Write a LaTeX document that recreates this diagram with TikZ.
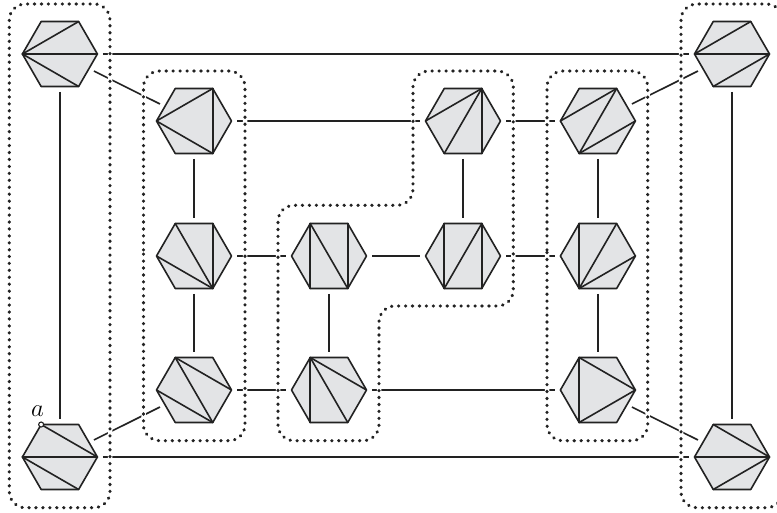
\documentclass[tikz,border=0pt]{standalone}
\usetikzlibrary{shapes.geometric}
\definecolor{hexfill}{HTML}{E3E4E6}
\definecolor{ink}{HTML}{222222}
\tikzset{
  hexnode/.style={regular polygon,regular polygon sides=6,minimum size=75pt,inner sep=0pt,outer sep=0pt,draw=ink,fill=hexfill,line width=1.6pt,line join=round},
  diag/.style={draw=ink,line width=1.6pt,line cap=round},
  link/.style={draw=ink,line width=1.6pt,shorten <=5.5pt,shorten >=5.5pt},
  halo/.style={draw=white,line width=4.5pt,rounded corners=16pt},
  dots/.style={draw=ink,line width=3.2pt,line cap=round,dash pattern=on 0.4pt off 6.55pt,rounded corners=16pt}
}
% corners: 1 top-right, 2 top-left, 3 left, 4 bottom-left, 5 bottom-right, 6 right
\newcommand{\hexa}[3]{%
  \node[hexnode] (#1) at (#2) {};
  \foreach \p/\q in {#3} \draw[diag] (#1.corner \p) -- (#1.corner \q);
}
\newcommand{\groupoutline}[1]{\draw[halo] #1; \draw[dots] #1;}
\begin{document}
\begin{tikzpicture}[x=1pt,y=-1pt]
\useasboundingbox (0,0) rectangle (777,512);
\clip (0,0) rectangle (777,512);
\fill[white] (0,0) rectangle (777,512);
\hexa{tl}{59.9,54}{3/1,3/6,3/5}
\hexa{tr}{732,54}{3/1,3/6,4/6}
\hexa{bl}{59.9,457}{2/6,3/6,3/5}
\hexa{br}{732,457}{2/6,3/6,4/6}
\hexa{aa}{194,121}{3/1,3/5,1/5}
\hexa{ab}{194,256}{2/5,3/5,1/5}
\hexa{ac}{194,390}{2/6,2/5,3/5}
\hexa{bb}{329,256}{2/4,2/5,1/5}
\hexa{bc}{329,390}{2/4,2/5,2/6}
\hexa{ca}{463,121}{3/1,4/1,1/5}
\hexa{cb}{463,256}{2/4,4/1,1/5}
\hexa{da}{597.9,121}{3/1,4/1,4/6}
\hexa{db}{597.9,256}{2/4,4/1,4/6}
\hexa{dc}{597.9,390}{2/4,2/6,4/6}
\foreach \u/\v in {tl/tr,bl/br,tl/bl,tr/br,tl/aa,bl/ac,tr/da,br/dc,aa/ab,ab/ac,aa/ca,ca/da,ab/bb,bb/cb,cb/db,bb/bc,ac/bc,bc/dc,ca/cb,da/db,db/dc}
  \draw[link] (\u) -- (\v);
\groupoutline{(9.3,250) -- (9.3,4) -- (110,4) -- (110,507.7) -- (9.3,507.7) -- (9.3,250)}
\groupoutline{(681,250) -- (681,4) -- (782.5,4) -- (782.5,507.7) -- (681,507.7) -- (681,250)}
\groupoutline{(143.5,250) -- (143.5,71) -- (245,71) -- (245,440.7) -- (143.5,440.7) -- (143.5,250)}
\groupoutline{(547,250) -- (547,71) -- (647.7,71) -- (647.7,440.7) -- (547,440.7) -- (547,250)}
\groupoutline{(278,320) -- (278,205.3) -- (413,205.3) -- (413,71) -- (513.3,71) -- (513.3,306) -- (379,306) -- (379,440.7) -- (278,440.7) -- (278,320)}
\node[circle,draw=ink,fill=white,line width=1.1pt,inner sep=0pt,minimum size=5pt] (mark) at (bl.corner 2) {};
\node[inner sep=0pt,font=\fontsize{23}{23}\selectfont] (lab) at (37.5,411) {$a$};
\end{tikzpicture}
\end{document}
